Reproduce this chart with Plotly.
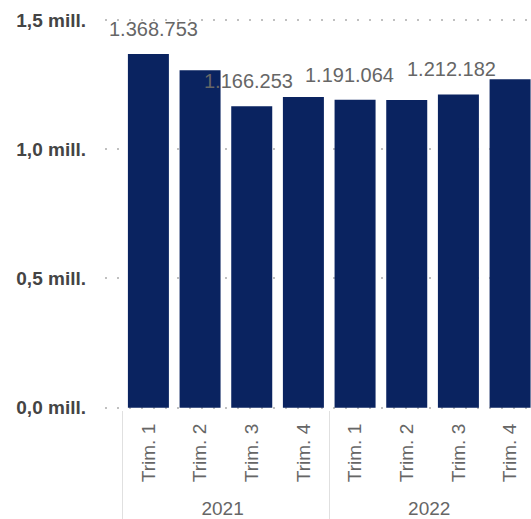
import plotly.graph_objects as go

years = ["2021", "2021", "2021", "2021", "2022", "2022", "2022", "2022"]
quarters = ["Trim. 1", "Trim. 2", "Trim. 3", "Trim. 4", "Trim. 1", "Trim. 2", "Trim. 3", "Trim. 4"]
values = [1368753, 1306000, 1166253, 1202000, 1191064, 1190000, 1212182, 1271000]
labels = ["1.368.753", "", "1.166.253", "", "1.191.064", "", "1.212.182", ""]
y_tickvals = [0, 500000, 1000000, 1500000]
y_ticktext = ["0,0 mill.", "0,5 mill.", "1,0 mill.", "1,5 mill."]

# horizontal nudges of the value labels (px), as in the original layout
label_nudge = [5, 0, -3, 0, -6, 0, -7, 0]

FONT = "Liberation Sans, Arial, sans-serif"
BAR = "#0a2360"

fig = go.Figure()
fig.add_trace(go.Bar(
    x=[years, quarters],
    y=values,
    marker=dict(color=BAR, line=dict(width=0)),
    hoverinfo="skip",
))

for idx, (v, lab) in enumerate(zip(values, labels)):
    if lab:
        fig.add_annotation(
            x=idx, y=v, text=lab, showarrow=False,
            xref="x", yref="y", yanchor="middle", yshift=25, xshift=label_nudge[idx],
            font=dict(family=FONT, size=20, color="#666666"),
        )

fig.update_layout(
    width=531, height=519,
    margin=dict(l=105, r=0, t=18, b=109, autoexpand=False),
    plot_bgcolor="white", paper_bgcolor="white",
    bargap=0.2065,
    showlegend=False,
    font=dict(family=FONT),
)
fig.update_xaxes(
    type="multicategory",
    range=[-0.84, 7.405],
    automargin=False,
    tickangle=-90,
    tickfont=dict(family=FONT, size=19, color="#666666"),
    tickprefix="\u00a0",
    showgrid=False, showline=False, zeroline=False,
    showdividers=True, dividercolor="#e0e0e0", dividerwidth=1,
    ticks="",
    ticklabelstandoff=9,
)
fig.update_yaxes(
    range=[-8900, 1507730],
    automargin=False,
    tickvals=y_tickvals, ticktext=y_ticktext,
    tickfont=dict(family=FONT, size=19, color="#444444", weight="bold"),
    showgrid=True, gridcolor="#c0c0c0", griddash="2px,10px", gridwidth=1.5,
    zeroline=False, showline=False, ticks="",
    ticklabelstandoff=18,
)

fig.write_html(
    "out.html",
    config={"displayModeBar": False},
    post_script="document.body.style.margin='0';document.body.style.overflow='hidden';",
)
